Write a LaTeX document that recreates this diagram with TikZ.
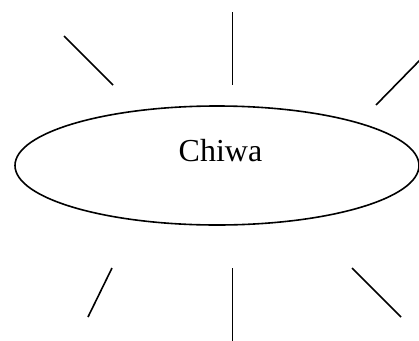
\documentclass[tikz,border=0pt]{standalone}
\usepackage{fontspec}
\setmainfont{Liberation Serif}
\begin{document}
\begin{tikzpicture}[x=1pt,y=-1pt,
  ray/.style={draw=black,line width=1.6pt},
  oval/.style={draw=black,line width=1.6pt}]
\useasboundingbox (0,0) rectangle (419,340);
\clip (0,0) rectangle (419,340);
\fill[white] (0,0) rectangle (419,340);
\draw[oval] (217,165.5) ellipse [x radius=202, y radius=59.5];
\node[anchor=base,inner sep=0pt,font=\fontsize{32}{38}\selectfont] (lbl) at (220.5,161.5) {Chiwa};
\coordinate (a1) at (64,36);   \coordinate (a2) at (113,85);
\coordinate (b1) at (232.5,12); \coordinate (b2) at (232.5,85);
\coordinate (c1) at (376,105); \coordinate (c2) at (421,59);
\coordinate (d1) at (112,268); \coordinate (d2) at (88,317);
\coordinate (e1) at (232.5,268); \coordinate (e2) at (232.5,342);
\coordinate (f1) at (352,268); \coordinate (f2) at (401,317);
\draw[ray] (a1) -- (a2);
\draw[ray] (b1) -- (b2);
\draw[ray] (c1) -- (c2);
\draw[ray] (d1) -- (d2);
\draw[ray] (e1) -- (e2);
\draw[ray] (f1) -- (f2);
\end{tikzpicture}
\end{document}
